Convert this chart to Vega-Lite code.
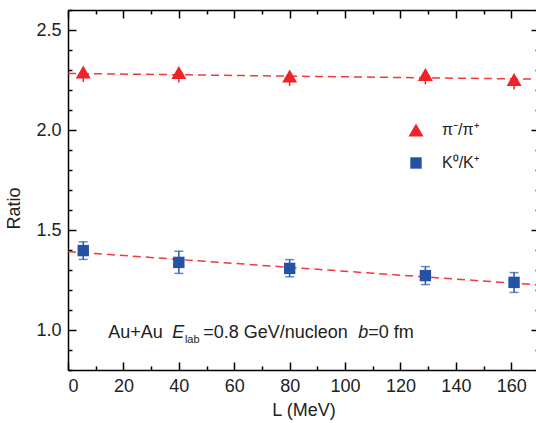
{
  "$schema": "https://vega.github.io/schema/vega-lite/v6.json",
  "width": 471,
  "height": 360,
  "autosize": {"type": "none"},
  "padding": {"left": 68, "top": 10, "right": 0, "bottom": 53},
  "background": "white",
  "config": {
    "view": {"stroke": null},
    "font": "Liberation Sans",
    "axis": {
      "grid": false,
      "domainColor": "#000",
      "tickColor": "#000",
      "labelColor": "#222",
      "titleColor": "#222",
      "labelFont": "Liberation Sans",
      "titleFont": "Liberation Sans",
      "labelFontSize": 18,
      "titleFontSize": 18,
      "titleFontWeight": "normal",
      "domainWidth": 1.5,
      "tickWidth": 1.5
    }
  },
  "datasets": {
    "main": [
      {"series": "π⁻/π⁺", "L": 5.5, "ratio": 2.29, "lo": 2.24, "hi": 2.31},
      {"series": "π⁻/π⁺", "L": 40, "ratio": 2.287, "lo": 2.237, "hi": 2.307},
      {"series": "π⁻/π⁺", "L": 80, "ratio": 2.27, "lo": 2.22, "hi": 2.29},
      {"series": "π⁻/π⁺", "L": 129, "ratio": 2.278, "lo": 2.228, "hi": 2.298},
      {"series": "π⁻/π⁺", "L": 161, "ratio": 2.252, "lo": 2.202, "hi": 2.272},
      {"series": "K⁰/K⁺", "L": 5.5, "ratio": 1.397, "lo": 1.353, "hi": 1.441},
      {"series": "K⁰/K⁺", "L": 40, "ratio": 1.338, "lo": 1.283, "hi": 1.394},
      {"series": "K⁰/K⁺", "L": 80, "ratio": 1.308, "lo": 1.266, "hi": 1.352},
      {"series": "K⁰/K⁺", "L": 129, "ratio": 1.272, "lo": 1.227, "hi": 1.317},
      {"series": "K⁰/K⁺", "L": 161, "ratio": 1.238, "lo": 1.188, "hi": 1.287}
    ],
    "fits": [
      {"series": "π⁻/π⁺", "L": 0, "ratio": 2.283},
      {"series": "π⁻/π⁺", "L": 170, "ratio": 2.254},
      {"series": "K⁰/K⁺", "L": 0, "ratio": 1.392},
      {"series": "K⁰/K⁺", "L": 170, "ratio": 1.225}
    ],
    "notes": [
      {"label": "Au+Au", "L": 14.5, "ratio": 0.96},
      {"label": "=0.8 GeV/nucleon", "L": 48.8, "ratio": 0.96},
      {"label": "=0 fm", "L": 108.4, "ratio": 0.96}
    ],
    "notesItalic": [
      {"label": "E", "L": 37.6, "ratio": 0.96},
      {"label": "b", "L": 104.8, "ratio": 0.96}
    ],
    "notesSub": [
      {"label": "lab", "L": 42.2, "ratio": 0.935}
    ]
  },
  "resolve": {"axis": {"x": "independent", "y": "independent"}},
  "layer": [
    {
      "data": {"name": "fits"},
      "mark": {"type": "line", "strokeDash": [8, 5], "strokeWidth": 1.5, "color": "#F03A3A"},
      "encoding": {
        "x": {"field": "L", "type": "quantitative", "scale": {"domain": [0, 170], "nice": false, "zero": false},
          "axis": {"orient": "bottom", "values": [0, 20, 40, 60, 80, 100, 120, 140, 160], "tickSize": -8, "labelPadding": 15, "title": "L (MeV)", "titlePadding": 6}},
        "y": {"field": "ratio", "type": "quantitative", "scale": {"domain": [0.8, 2.6], "nice": false, "zero": false},
          "axis": {"orient": "left", "values": [1.0, 1.5, 2.0, 2.5], "format": ".1f", "tickSize": -8, "labelPadding": 15, "title": "Ratio", "titlePadding": 12, "titleY": 198}},
        "detail": {"field": "series"}
      }
    },
    {
      "data": {"name": "main"},
      "transform": [{"filter": "datum.series === 'π⁻/π⁺'"}],
      "mark": {"type": "rule", "strokeWidth": 1.5, "color": "#EE2229"},
      "encoding": {
        "x": {"field": "L", "type": "quantitative", "scale": {"domain": [0, 170], "nice": false, "zero": false},
          "axis": {"orient": "bottom", "values": [10, 30, 50, 70, 90, 110, 130, 150, 170], "tickSize": -4, "labels": false, "domain": false, "title": null}},
        "y": {"field": "lo", "type": "quantitative", "scale": {"domain": [0.8, 2.6], "nice": false, "zero": false},
          "axis": {"orient": "left", "values": [0.8, 0.9, 1.1, 1.2, 1.3, 1.4, 1.6, 1.7, 1.8, 1.9, 2.1, 2.2, 2.3, 2.4, 2.6], "tickSize": -4, "labels": false, "domain": false, "title": null}},
        "y2": {"field": "hi"}
      }
    },
    {
      "data": {"name": "main"},
      "transform": [{"filter": "datum.series === 'K⁰/K⁺'"}],
      "mark": {"type": "rule", "strokeWidth": 1.5, "color": "#2A56A8"},
      "encoding": {
        "x": {"field": "L", "type": "quantitative", "scale": {"domain": [0, 170], "nice": false, "zero": false},
          "axis": {"orient": "top", "values": [0, 20, 40, 60, 80, 100, 120, 140, 160], "tickSize": -8, "labels": false, "title": null}},
        "y": {"field": "lo", "type": "quantitative", "scale": {"domain": [0.8, 2.6], "nice": false, "zero": false},
          "axis": {"orient": "right", "values": [1.0, 1.5, 2.0, 2.5], "tickSize": -8, "labels": false, "title": null}},
        "y2": {"field": "hi"}
      }
    },
    {
      "data": {"name": "main"},
      "transform": [{"filter": "datum.series === 'K⁰/K⁺'"}],
      "mark": {"type": "tick", "orient": "horizontal", "size": 9, "thickness": 1.5, "color": "#2A56A8"},
      "encoding": {
        "x": {"field": "L", "type": "quantitative", "scale": {"domain": [0, 170], "nice": false, "zero": false},
          "axis": {"orient": "top", "values": [10, 30, 50, 70, 90, 110, 130, 150, 170], "tickSize": -4, "labels": false, "domain": false, "title": null}},
        "y": {"field": "lo", "type": "quantitative", "scale": {"domain": [0.8, 2.6], "nice": false, "zero": false},
          "axis": {"orient": "right", "values": [0.8, 0.9, 1.1, 1.2, 1.3, 1.4, 1.6, 1.7, 1.8, 1.9, 2.1, 2.2, 2.3, 2.4, 2.6], "tickSize": -4, "labels": false, "domain": false, "title": null}}
      }
    },
    {
      "data": {"name": "main"},
      "transform": [{"filter": "datum.series === 'K⁰/K⁺'"}],
      "mark": {"type": "tick", "orient": "horizontal", "size": 9, "thickness": 1.5, "color": "#2A56A8"},
      "encoding": {
        "x": {"field": "L", "type": "quantitative", "scale": {"domain": [0, 170], "nice": false, "zero": false}, "axis": null},
        "y": {"field": "hi", "type": "quantitative", "scale": {"domain": [0.8, 2.6], "nice": false, "zero": false}, "axis": null}
      }
    },
    {
      "data": {"name": "main"},
      "mark": {"type": "point", "filled": true, "opacity": 1},
      "encoding": {
        "x": {"field": "L", "type": "quantitative", "scale": {"domain": [0, 170], "nice": false, "zero": false}, "axis": null},
        "y": {"field": "ratio", "type": "quantitative", "scale": {"domain": [0.8, 2.6], "nice": false, "zero": false}, "axis": null},
        "color": {"field": "series", "type": "nominal",
          "scale": {"domain": ["π⁻/π⁺", "K⁰/K⁺"], "range": ["#EE2229", "#2452A4"]},
          "legend": {"orient": "none", "legendX": 340, "legendY": 112, "title": null, "labelFontSize": 16, "labelFont": "Liberation Sans", "labelColor": "#222", "labelOffset": 18, "rowPadding": 17, "padding": 0, "symbolStrokeWidth": 0}},
        "shape": {"field": "series", "type": "nominal", "scale": {"domain": ["π⁻/π⁺", "K⁰/K⁺"], "range": ["triangle-up", "square"]}},
        "size": {"field": "series", "type": "nominal", "scale": {"domain": ["π⁻/π⁺", "K⁰/K⁺"], "range": [225, 130]}}
      }
    },
    {
      "data": {"name": "notes"},
      "mark": {"type": "text", "align": "left", "baseline": "alphabetic", "fontSize": 18, "font": "Liberation Sans", "color": "#222"},
      "encoding": {
        "x": {"field": "L", "type": "quantitative", "scale": {"domain": [0, 170], "nice": false, "zero": false}, "axis": null},
        "y": {"field": "ratio", "type": "quantitative", "scale": {"domain": [0.8, 2.6], "nice": false, "zero": false}, "axis": null},
        "text": {"field": "label"}
      }
    },
    {
      "data": {"name": "notesItalic"},
      "mark": {"type": "text", "align": "left", "baseline": "alphabetic", "fontSize": 18, "fontStyle": "italic", "font": "Liberation Sans", "color": "#222"},
      "encoding": {
        "x": {"field": "L", "type": "quantitative", "scale": {"domain": [0, 170], "nice": false, "zero": false}, "axis": null},
        "y": {"field": "ratio", "type": "quantitative", "scale": {"domain": [0.8, 2.6], "nice": false, "zero": false}, "axis": null},
        "text": {"field": "label"}
      }
    },
    {
      "data": {"name": "notesSub"},
      "mark": {"type": "text", "align": "left", "baseline": "alphabetic", "fontSize": 11, "font": "Liberation Sans", "color": "#222"},
      "encoding": {
        "x": {"field": "L", "type": "quantitative", "scale": {"domain": [0, 170], "nice": false, "zero": false}, "axis": null},
        "y": {"field": "ratio", "type": "quantitative", "scale": {"domain": [0.8, 2.6], "nice": false, "zero": false}, "axis": null},
        "text": {"field": "label"}
      }
    }
  ]
}
